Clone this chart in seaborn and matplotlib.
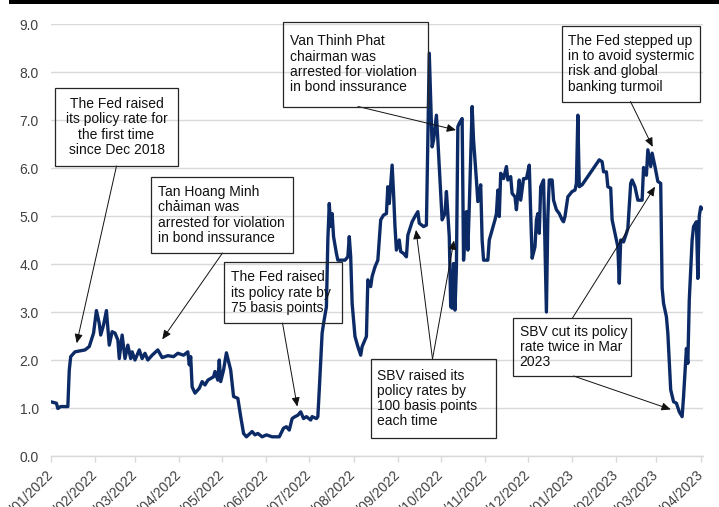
import numpy as np
import pandas as pd
import matplotlib
matplotlib.use("Agg")
import matplotlib.pyplot as plt
import matplotlib.dates as mdates
from matplotlib.patches import Rectangle
import seaborn as sns

# Overnight interbank rate (%), sampled by days elapsed since 1 Jan 2022
day_offset = [
    0, 4, 5, 7, 12, 13, 14, 17, 24, 27, 30, 32, 34, 35, 37, 39, 41, 43, 45, 47,
    48, 50, 52, 54, 56, 57, 59, 62, 64, 66, 68, 71, 75, 78, 82, 86, 89, 93, 96, 97,
    98, 99, 101, 104, 106, 108, 110, 114, 115, 117, 118, 119, 121, 123, 126, 128, 131, 133, 135, 137,
    141, 143, 145, 148, 151, 155, 160, 163, 165, 167, 169, 171, 173, 175, 177, 179, 182, 183, 186, 187,
    188, 190, 191, 193, 194, 195, 196, 197, 198, 200, 201, 206, 208, 209, 210, 211, 213, 215, 217, 218,
    221, 222, 224, 225, 227, 229, 231, 233, 235, 236, 237, 239, 240, 241, 242, 244, 245, 247, 249, 250,
    253, 255, 257, 258, 261, 263, 265, 267, 268, 270, 271, 274, 276, 277, 279, 280, 281, 282, 283, 284,
    285, 286, 288, 289, 290, 291, 292, 293, 295, 296, 298, 299, 301, 302, 303, 306, 307, 309, 311, 312,
    313, 314, 315, 317, 319, 320, 322, 323, 325, 326, 327, 328, 329, 331, 333, 335, 336, 337, 339, 340,
    341, 342, 343, 345, 347, 348, 349, 351, 352, 354, 356, 358, 359, 360, 362, 365, 367, 368, 369, 370,
    372, 384, 386, 387, 389, 390, 392, 393, 395, 397, 398, 399, 401, 403, 404, 406, 407, 409, 411, 414,
    415, 416, 417, 418, 420, 421, 423, 425, 427, 428, 429, 431, 432, 434, 436, 438, 440, 442, 443, 445,
    446, 447, 449, 450, 452, 453, 454, 455, 456,
]
rate = [
    1.13, 1.10, 0.99, 1.03, 1.03, 1.79, 2.07, 2.17, 2.21, 2.28, 2.56, 3.03, 2.76, 2.52, 2.73, 3.03, 2.31, 2.59, 2.56, 2.42,
    2.03, 2.52, 2.03, 2.31, 2.03, 2.17, 2.00, 2.21, 2.03, 2.14, 2.00, 2.10, 2.21, 2.05, 2.09, 2.07, 2.14, 2.10, 2.17, 1.90,
    2.07, 1.44, 1.31, 1.41, 1.55, 1.48, 1.58, 1.65, 1.76, 1.58, 2.00, 1.55, 1.79, 2.15, 1.79, 1.24, 1.20, 0.82, 0.47, 0.40,
    0.51, 0.44, 0.47, 0.40, 0.44, 0.40, 0.40, 0.58, 0.61, 0.54, 0.78, 0.82, 0.85, 0.92, 0.78, 0.82, 0.75, 0.82, 0.78, 0.82,
    1.38, 2.56, 2.76, 3.11, 4.50, 5.26, 4.78, 5.05, 4.57, 4.22, 4.08, 4.08, 4.15, 4.57, 4.15, 3.18, 2.49, 2.28, 2.10, 2.28,
    2.49, 3.67, 3.53, 3.74, 3.94, 4.08, 4.92, 5.02, 5.05, 5.61, 5.26, 6.06, 5.47, 4.78, 4.29, 4.50, 4.26, 4.22, 4.15, 4.60,
    4.88, 4.99, 5.09, 4.85, 4.78, 4.81, 8.39, 6.44, 6.58, 7.10, 6.58, 4.92, 5.05, 5.51, 4.57, 3.11, 3.08, 4.01, 3.04, 3.94,
    6.86, 6.93, 7.03, 4.08, 4.64, 5.09, 4.29, 5.19, 7.28, 6.58, 5.75, 5.30, 5.65, 4.50, 4.08, 4.08, 4.50, 4.71, 4.92, 5.05,
    5.54, 4.99, 5.89, 5.78, 6.03, 5.75, 5.82, 5.47, 5.40, 5.13, 5.47, 5.75, 5.33, 5.78, 5.78, 6.06, 5.05, 4.12, 4.36, 4.92,
    5.05, 4.64, 5.61, 5.75, 3.00, 4.99, 5.75, 5.75, 5.33, 5.13, 5.05, 4.92, 4.88, 4.99, 5.40, 5.51, 5.54, 5.68, 7.10, 5.61,
    5.65, 6.17, 6.13, 5.92, 5.92, 5.61, 5.58, 4.92, 4.64, 4.36, 3.60, 4.50, 4.46, 4.64, 4.74, 5.68, 5.75, 5.61, 5.33, 5.33,
    6.01, 5.89, 5.85, 6.38, 6.03, 6.31, 6.03, 5.72, 5.68, 3.50, 3.18, 2.90, 2.56, 1.38, 1.13, 1.10, 0.92, 0.82, 1.24, 2.24,
    1.93, 3.25, 4.50, 4.78, 4.88, 3.70, 5.00, 5.19, 5.15,
]

START = pd.Timestamp("2022-01-01")
df = pd.DataFrame({
    "date": START + pd.to_timedelta(day_offset, unit="D"),
    "rate": rate,
})

W, H = 719, 507
LINE = "#0C2B66"
TXT = "#404040"
GRID = "#D9D9D9"

sns.set_theme(style="white")
plt.rcParams["font.family"] = ["Liberation Sans", "DejaVu Sans"]

fig = plt.figure(figsize=(W / 100, H / 100), dpi=100)
ax = fig.add_axes([50.7 / W, 1 - 456 / H, (702.7 - 50.7) / W, (456 - 24) / H])

sns.lineplot(data=df, x="date", y="rate", ax=ax, color=LINE, linewidth=2.4,
             zorder=3)

ax.set_ylim(0, 9)
ax.set_xlim(START, START + pd.Timedelta(days=456.4))
ax.set_yticks(np.arange(0, 10, 1))
ax.yaxis.set_major_formatter(matplotlib.ticker.FormatStrFormatter("%.1f"))
ax.yaxis.grid(True, color=GRID, linewidth=1.0)
ax.set_axisbelow(True)
ax.set_xlabel("")
ax.set_ylabel("")

for side in ("left", "right", "top"):
    ax.spines[side].set_visible(False)
ax.spines["bottom"].set_color(GRID)
ax.spines["bottom"].set_linewidth(1.0)

ax.xaxis.set_major_locator(mdates.MonthLocator())
ax.xaxis.set_major_formatter(mdates.DateFormatter("%d/%m/%Y"))
ax.tick_params(axis="x", bottom=True, length=4, width=1, color=GRID,
               labelsize=10, labelcolor=TXT, pad=8)
ax.tick_params(axis="y", left=False, labelsize=10, labelcolor=TXT, pad=2.5)
for lbl in ax.get_xticklabels():
    lbl.set_rotation(45)
    lbl.set_ha("right")
    lbl.set_va("center")
    lbl.set_rotation_mode("anchor")

# Black rule across the top of the figure
fig.add_artist(Rectangle((9 / W, 1 - 4.3 / H), (W - 9) / W, 4.3 / H,
                         transform=fig.transFigure, facecolor="black",
                         edgecolor="none"))


def fpt(x, y):
    return x / W, 1 - y / H


def note_box(x0, y0, x1, y1, text, ha="left"):
    fig.add_artist(Rectangle(fpt(x0, y1), (x1 - x0) / W, (y1 - y0) / H,
                             transform=fig.transFigure, facecolor="none",
                             edgecolor="#262626", linewidth=0.9, zorder=5))
    if ha == "center":
        tx, tyy = fpt((x0 + x1) / 2, (y0 + y1) / 2)
    else:
        tx, tyy = fpt(x0 + 7, (y0 + y1) / 2)
    fig.text(tx, tyy, text, ha=ha, va="center", fontsize=10, color="#111111",
             linespacing=1.12, zorder=6)


def arrow(start_px, day, val):
    ax.annotate("", xy=(START + pd.Timedelta(days=day), val),
                xycoords="data", xytext=fpt(*start_px),
                textcoords="figure fraction",
                arrowprops=dict(arrowstyle="-|>,head_length=0.45,head_width=0.2",
                                color="#111111", lw=0.7,
                                shrinkA=0, shrinkB=0),
                zorder=6, annotation_clip=False)


note_box(55, 88, 178, 166,
         "The Fed raised\nits policy rate for\nthe first time\nsince Dec 2018",
         ha="center")
arrow((116.5, 166), 18.2, 2.35)

note_box(151, 177, 293, 253,
         "Tan Hoang Minh\nchảiman was\narrested for violation\nin bond inssurance")
arrow((222.5, 253), 78.1, 2.43)

note_box(224, 262, 341.5, 323,
         "The Fed raised\nits policy rate by\n75 basis points")
arrow((282.5, 323), 172.6, 1.03)

note_box(283, 22, 428, 106.5,
         "Van Thinh Phat\nchairman was\narrested for violation\nin bond inssurance")
arrow((358, 106.5), 283.7, 6.79)

note_box(370.5, 359, 496, 438,
         "SBV raised its\npolicy rates by\n100 basis points\neach time")
arrow((432.5, 359), 255.7, 4.71)
arrow((432.5, 359), 282.3, 4.49)

note_box(512.5, 318, 631, 376,
         "SBV cut its policy\nrate twice in Mar\n2023")
arrow((572.5, 318), 423.0, 5.61)
arrow((573.5, 376), 434.0, 0.97)

note_box(561.5, 26, 700, 101.5,
         "The Fed stepped up\nin to avoid systermic\nrisk and global\nbanking turmoil")
arrow((630.5, 101.5), 421.4, 6.44)

fig.savefig("out.png", dpi=100)
